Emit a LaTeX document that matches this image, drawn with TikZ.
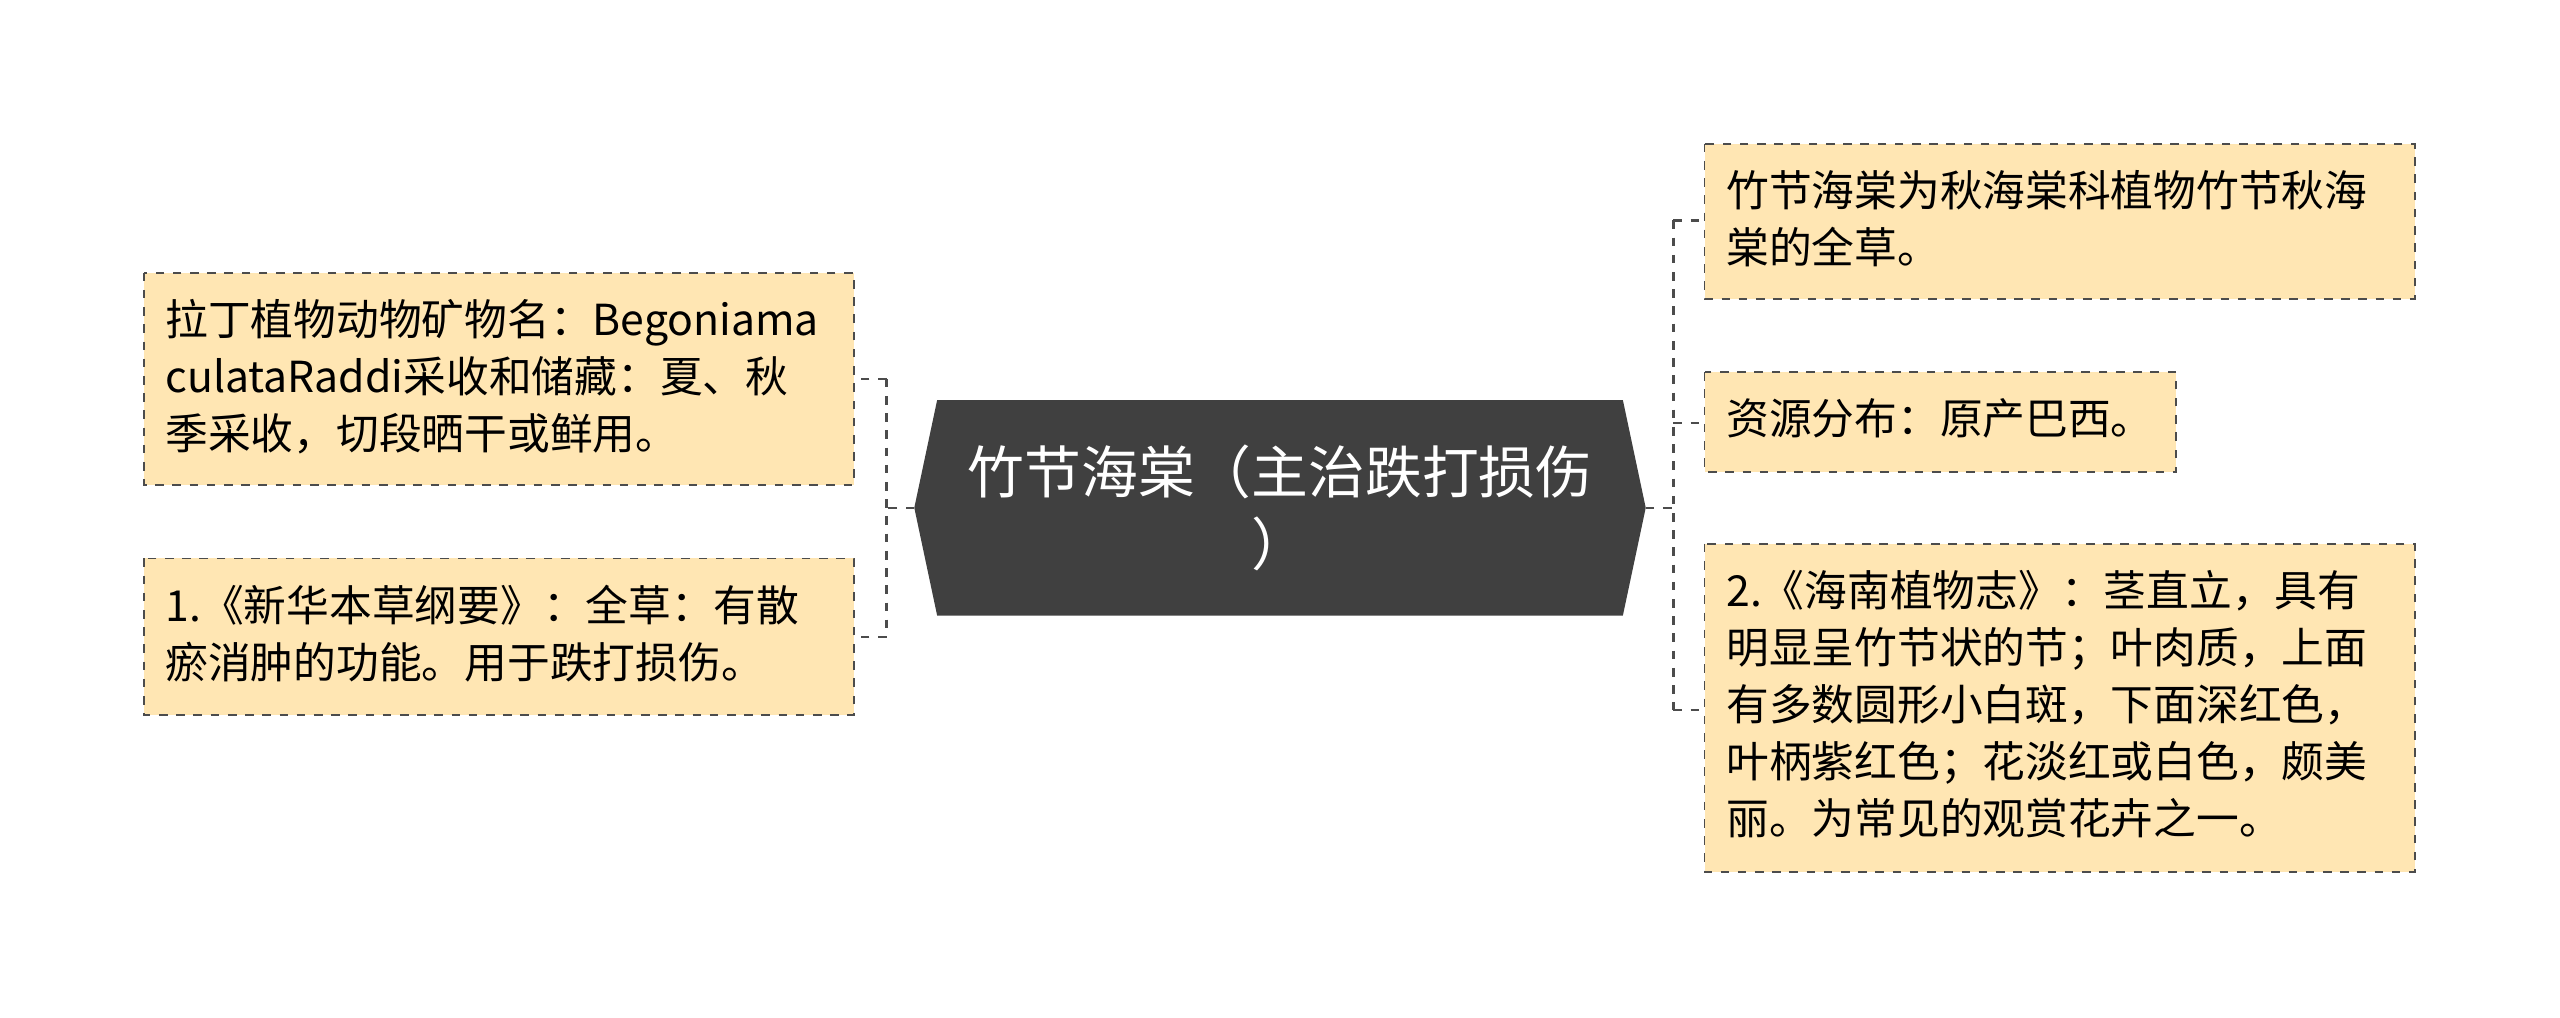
\documentclass[tikz,border=0pt]{standalone}
\usepackage{fontspec}
\setmainfont{Noto Sans CJK SC}
\begin{document}
\begin{tikzpicture}[x=0.02cm,y=-0.02cm,
  conn/.style={draw=black!70,dashed,line width=0.8pt}]
\definecolor{leafc}{HTML}{FFE6B3}
\useasboundingbox (0,0) rectangle (1568,623);
% center
\fill[black!75] (560,311) -- (574,245) -- (994,245) -- (1008,311) -- (994,377) -- (574,377) -- cycle;
\node (c) at (784,311) [text=white,align=center,font=\fontsize{19.8pt}{25pt}\selectfont] {竹节海棠（主治跌打损伤\\）};
\coordinate (cl) at (560,311); \coordinate (cr) at (1008,311);
\newcommand\leafbox[6]{%
 \draw[draw=black!70,dashed,fill=leafc,line width=0.6pt] (#1,#2) rectangle (#3,#4);
 \node[anchor=north west,inner sep=0pt,align=left,font=\fontsize{14.9pt}{19.9pt}\selectfont] (#5) at (#1+13,#2+16) {#6};}
\leafbox{88}{167}{523}{297}{l1}{拉丁植物动物矿物名：Begoniama\\culataRaddi采收和储藏：夏、秋\\季采收，切段晒干或鲜用。}
\leafbox{88}{342}{523}{438}{l2}{1.《新华本草纲要》：全草：有散\\瘀消肿的功能。用于跌打损伤。}
\leafbox{1044}{88}{1479}{183}{r1}{竹节海棠为秋海棠科植物竹节秋海\\棠的全草。}
\leafbox{1044}{228}{1333}{289}{r2}{资源分布：原产巴西。}
\leafbox{1044}{333}{1479}{534}{r3}{2.《海南植物志》：茎直立，具有\\明显呈竹节状的节；叶肉质，上面\\有多数圆形小白斑，下面深红色，\\叶柄紫红色；花淡红或白色，颇美\\丽。为常见的观赏花卉之一。}
\draw[conn] (cl) -- (543,311);
\draw[conn] (543,232) -- (543,390);
\draw[conn] (543,232) -- (523,232);
\draw[conn] (543,390) -- (523,390);
\draw[conn] (cr) -- (1025,311);
\draw[conn] (1025,135) -- (1025,435);
\draw[conn] (1025,135) -- (1044,135);
\draw[conn] (1025,259) -- (1044,259);
\draw[conn] (1025,435) -- (1044,435);
\end{tikzpicture}
\end{document}
